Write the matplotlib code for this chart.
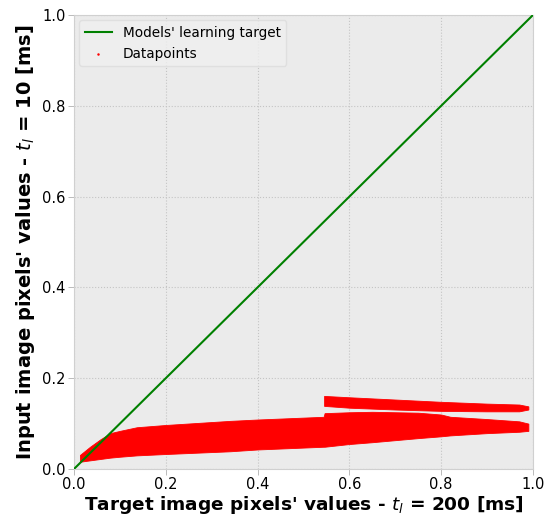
import matplotlib
matplotlib.use("Agg")
import matplotlib.pyplot as plt

# Identity line: the value the model should learn to predict
target_x = [0.0, 1.0]
target_y = [0.0, 1.0]

# Envelope of the main cloud of datapoints (input vs. target pixel values)
band_x = [0.013, 0.035, 0.057, 0.079, 0.10, 0.137, 0.20, 0.34, 0.40, 0.544,
          0.546, 0.60, 0.65, 0.75, 0.80, 0.82, 0.90, 0.97, 0.99]
band_lo = [0.016, 0.019, 0.022, 0.025, 0.027, 0.030, 0.033, 0.039, 0.043, 0.049,
           0.049, 0.055, 0.059, 0.068, 0.072, 0.074, 0.079, 0.082, 0.084]
band_hi = [0.031, 0.049, 0.065, 0.079, 0.084, 0.092, 0.097, 0.106, 0.109, 0.115,
           0.123, 0.125, 0.126, 0.124, 0.120, 0.115, 0.110, 0.105, 0.100]

# Envelope of the secondary cloud that appears for bright target pixels
upper_x = [0.545, 0.60, 0.70, 0.80, 0.90, 0.97, 0.99]
upper_lo = [0.139, 0.135, 0.131, 0.128, 0.127, 0.127, 0.131]
upper_hi = [0.161, 0.158, 0.153, 0.148, 0.144, 0.142, 0.138]

ticks = [0.0, 0.2, 0.4, 0.6, 0.8, 1.0]

fig = plt.figure(figsize=(5.5, 5.18), dpi=100)
ax = fig.add_axes([0.1345, 0.0946, 0.8345, 0.8764])
ax.set_facecolor("#ebebeb")

ax.grid(True, color="#c4c4c4", linestyle=":", linewidth=0.8)
ax.set_axisbelow(True)

ax.plot(target_x, target_y, color="green", linewidth=1.5,
        label="Models' learning target", zorder=3)

red = "#ff0000"
ax.fill_between(band_x, band_lo, band_hi, color=red, linewidth=0.6,
                edgecolor=red, zorder=2)
ax.fill_between(upper_x, upper_lo, upper_hi, color=red, linewidth=0.6,
                edgecolor=red, zorder=2)
# legend entry for the point cloud
ax.scatter([], [], s=0.6, color=red, label="Datapoints")

ax.set_xlim(0, 1)
ax.set_ylim(0, 1)
ax.set_xticks(ticks)
ax.set_yticks(ticks)
ax.set_xticklabels([f"{t:.1f}" for t in ticks])
ax.set_yticklabels([f"{t:.1f}" for t in ticks])
ax.tick_params(labelsize=10.5, length=4, width=0.6, color="#b0b0b0", pad=2)
for s in ax.spines.values():
    s.set_color("#d0d0d0")
    s.set_linewidth(0.8)

ax.set_xlabel(r"Target image pixels' values - $t_l$ = 200 [ms]",
              fontsize=13.3, fontweight="bold", labelpad=1)
ax.set_ylabel(r"Input image pixels' values - $t_l$ = 10 [ms]",
              fontsize=14, fontweight="bold", labelpad=4)

leg = ax.legend(loc="upper left", fontsize=9.8, frameon=True, fancybox=True,
                borderaxespad=0.4)
leg.get_frame().set_facecolor("#efefef")
leg.get_frame().set_edgecolor("#dcdcdc")

fig.savefig("out.png", dpi=100)
